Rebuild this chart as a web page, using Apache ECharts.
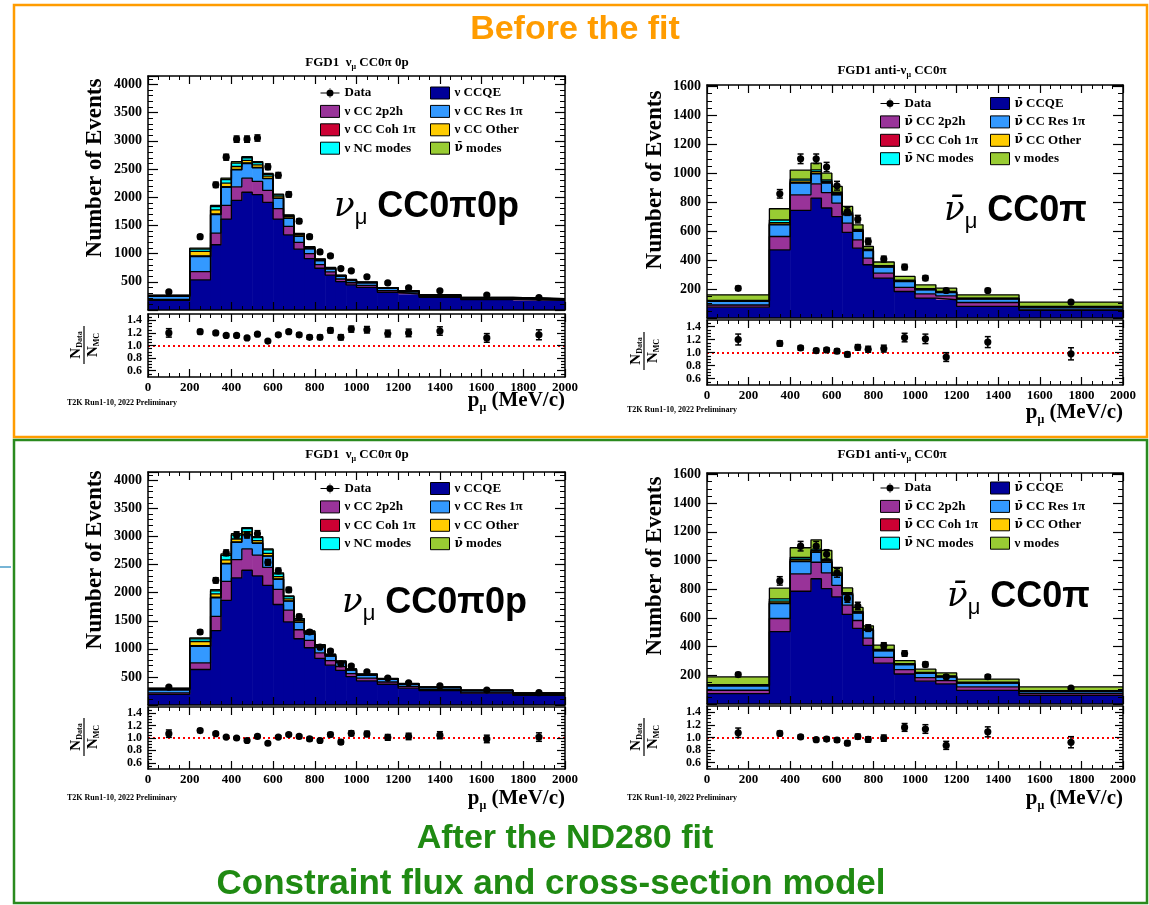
<!DOCTYPE html>
<html>
<head>
<meta charset="utf-8">
<title>FGD1 CC0π before and after the ND280 fit</title>
<script src="https://cdn.jsdelivr.net/npm/echarts@6/dist/echarts.min.js"></script>
<style>
  html, body { margin: 0; padding: 0; background: #fff; }
  #chart { width: 1149px; height: 905px; }
</style>
</head>
<body>
<div id="chart"></div>
<script>
// bin edges in p_mu (MeV/c)
const edgesNu = [0, 200, 300, 350, 400, 450, 500, 550, 600, 650, 700, 750, 800, 850, 900, 950, 1000, 1100, 1200, 1300, 1500, 1750, 2000];
const edgesAnti = [0, 300, 400, 500, 550, 600, 650, 700, 750, 800, 900, 1000, 1100, 1200, 1500, 2000];

// data counts (same before / after the fit)
const dataNu = [320, 1300, 2220, 2710, 3030, 3030, 3050, 2540, 2390, 2050, 1575, 1300, 1030, 960, 735, 695, 590, 480, 395, 340, 265, 220];
const dataAnti = [205, 858, 1100, 1100, 1043, 914, 736, 683, 529, 407, 352, 276, 190, 190, 110];

// N_Data / N_MC
const ratioNuPre = [1.2, 1.22, 1.2, 1.16, 1.16, 1.12, 1.18, 1.07, 1.17, 1.22, 1.17, 1.13, 1.13, 1.24, 1.13, 1.26, 1.25, 1.19, 1.2, 1.23, 1.12, 1.17];
const ratioNuPost = [1.07, 1.12, 1.07, 1.015, 1.0, 0.96, 1.025, 0.915, 1.015, 1.055, 1.025, 0.985, 0.96, 1.055, 0.935, 1.075, 1.065, 1.01, 1.025, 1.045, 0.985, 1.015];
const ratioAntiPre = [1.2, 1.14, 1.07, 1.03, 1.04, 1.02, 0.97, 1.08, 1.05, 1.06, 1.23, 1.21, 0.93, 1.16, 0.98];
const ratioAntiPost = [1.075, 1.065, 1.01, 0.965, 0.975, 0.96, 0.91, 1.015, 0.97, 0.99, 1.16, 1.135, 0.875, 1.09, 0.925];

// MC, nu CC0pi0p, before the fit
const preNuCCQE = [170, 534, 1157, 1613, 1945, 2088, 2046, 1910, 1613, 1334, 1080, 910, 740, 620, 505, 445, 400, 315, 280, 226, 185, 170];
const preNu2p2h = [20, 148, 207, 243, 240, 250, 235, 210, 185, 150, 118, 90, 65, 55, 45, 38, 35, 28, 22, 17, 13, 11];
const preNuRes = [50, 267, 326, 321, 300, 260, 240, 210, 180, 140, 110, 85, 70, 55, 45, 40, 45, 40, 30, 20, 18, 15];
const preNuCoh = [2, 12, 14, 12, 10, 9, 8, 6, 5, 4, 3, 2, 2, 1, 1, 1, 1, 1, 1, 1, 0, 0];
const preNuOther = [10, 80, 70, 60, 50, 48, 45, 40, 35, 30, 25, 20, 15, 12, 10, 8, 8, 6, 5, 4, 3, 3];
const preNuNC = [8, 40, 60, 65, 60, 45, 40, 30, 25, 20, 15, 12, 10, 8, 7, 6, 6, 5, 4, 3, 3, 2];
const preNuWrong = [3, 15, 20, 25, 25, 20, 18, 15, 12, 10, 8, 6, 5, 4, 4, 3, 3, 3, 2, 2, 2, 2];

// MC, nu CC0pi0p, after the fit
const postNuCCQE = [190, 632, 1326, 1865, 2263, 2400, 2300, 2130, 1790, 1480, 1180, 1020, 830, 710, 615, 505, 430, 370, 300, 255, 210, 170];
const postNu2p2h = [25, 119, 254, 338, 326, 380, 370, 320, 270, 210, 160, 130, 100, 80, 70, 55, 50, 40, 32, 25, 20, 16];
const postNuRes = [55, 295, 327, 309, 308, 250, 210, 200, 180, 160, 130, 115, 100, 80, 70, 60, 50, 45, 35, 30, 25, 20];
const postNuCoh = [2, 10, 12, 12, 10, 8, 8, 7, 5, 4, 3, 2, 2, 1, 1, 1, 1, 1, 1, 1, 0, 0];
const postNuOther = [12, 75, 60, 60, 50, 45, 40, 45, 40, 35, 28, 22, 18, 15, 12, 10, 9, 8, 7, 6, 5, 4];
const postNuNC = [10, 45, 55, 80, 70, 60, 55, 60, 50, 40, 28, 24, 18, 14, 12, 10, 9, 7, 6, 5, 5, 4];
const postNuWrong = [4, 19, 21, 26, 24, 17, 15, 18, 20, 14, 10, 7, 5, 4, 4, 3, 3, 3, 2, 2, 2, 2];

// MC, anti-nu CC0pi, before the fit
const preAntiCCQE = [75, 471, 743, 829, 760, 701, 591, 483, 368, 276, 183, 138, 126, 80, 52];
const preAnti2p2h = [15, 92, 108, 98, 107, 93, 65, 57, 46, 34, 28, 29, 27, 27, 9];
const preAntiRes = [25, 81, 81, 69, 65, 57, 57, 58, 52, 42, 41, 28, 23, 24, 14];
const preAntiCoh = [1, 5, 4, 3, 3, 2, 2, 2, 1, 1, 1, 1, 1, 1, 0];
const preAntiOther = [3, 10, 12, 12, 10, 8, 8, 6, 4, 5, 4, 3, 3, 3, 3];
const preAntiNC = [3, 18, 12, 12, 10, 8, 8, 6, 4, 4, 4, 3, 3, 3, 3];
const preAntiWrong = [38, 78, 62, 47, 46, 40, 40, 32, 19, 25, 26, 27, 24, 22, 29];

// MC, anti-nu CC0pi, after the fit
const postAntiCCQE = [72, 504, 786, 873, 804, 746, 624, 527, 409, 285, 209, 159, 140, 95, 60];
const postAnti2p2h = [24, 92, 121, 115, 110, 81, 65, 55, 50, 40, 31, 25, 23, 25, 12];
const postAntiRes = [30, 104, 86, 69, 74, 69, 73, 52, 55, 46, 34, 30, 25, 25, 15];
const postAntiCoh = [1, 5, 4, 3, 3, 2, 2, 2, 1, 1, 1, 1, 1, 1, 0];
const postAntiOther = [3, 12, 12, 10, 8, 8, 6, 5, 4, 4, 3, 3, 3, 3, 3];
const postAntiNC = [4, 15, 12, 10, 9, 8, 6, 5, 4, 4, 3, 3, 3, 3, 3];
const postAntiWrong = [55, 75, 68, 64, 62, 38, 33, 27, 22, 31, 22, 22, 22, 22, 26];

const NUBAR = 'ν\u0304';
const namesNu = ['ν CCQE', 'ν CC 2p2h', 'ν CC Res 1π', 'ν CC Coh 1π', 'ν CC Other', 'ν NC modes', NUBAR + ' modes'];
const namesAnti = [NUBAR + ' CCQE', NUBAR + ' CC 2p2h', NUBAR + ' CC Res 1π', NUBAR + ' CC Coh 1π', NUBAR + ' CC Other', NUBAR + ' NC modes', 'ν modes'];
const modeColors = ['#000099', '#993399', '#3399ff', '#cc0033', '#ffcc00', '#00ffff', '#99cc33'];

const ratioTicks = [0.6, 0.8, 1.0, 1.2, 1.4];
const ratioMinorTicks = [0.55, 0.65, 0.7, 0.75, 0.85, 0.9, 0.95, 1.05, 1.1, 1.15, 1.25, 1.3, 1.35, 1.45];

const serif = '"Liberation Serif", "DejaVu Serif", serif';
const sans = '"Liberation Sans", Arial, sans-serif';

const panels = [
  { edges: edgesNu, data: dataNu, ratio: ratioNuPre, names: namesNu,
    layers: [preNuCCQE, preNu2p2h, preNuRes, preNuCoh, preNuOther, preNuNC, preNuWrong],
    x: 148, w: 417, mainTop: 76, mainH: 234, ratioTop: 314, ratioH: 63,
    yMax: 4150, yStep: 500, yMinor: 5,
    title: '{b|FGD1  ν}{s|μ}{b| CC0π 0p}', titleX: 357, titleY: 63,
    legTop: 86.5, legX: [320, 430], yTitle: [95, 168], rTitle: [84, 345],
    xTitle: [565, 401], t2k: [67, 403], big: '{nu|ν}{mu|μ}{t| CC0π0p}', bigPos: [334, 207] },
  { edges: edgesAnti, data: dataAnti, ratio: ratioAntiPre, names: namesAnti,
    layers: [preAntiCCQE, preAnti2p2h, preAntiRes, preAntiCoh, preAntiOther, preAntiNC, preAntiWrong],
    x: 707, w: 416, mainTop: 85, mainH: 233, ratioTop: 320, ratioH: 65,
    yMax: 1610, yStep: 200, yMinor: 4,
    title: '{b|FGD1 anti-ν}{s|μ}{b| CC0π}', titleX: 892, titleY: 71,
    legTop: 97, legX: [880, 990], yTitle: [655, 180], rTitle: [644, 351],
    xTitle: [1123, 413], t2k: [627, 410], big: '{nu|' + NUBAR + '}{mu|μ}{t| CC0π}', bigPos: [944, 211] },
  { edges: edgesNu, data: dataNu, ratio: ratioNuPost, names: namesNu,
    layers: [postNuCCQE, postNu2p2h, postNuRes, postNuCoh, postNuOther, postNuNC, postNuWrong],
    x: 148, w: 417, mainTop: 472, mainH: 233, ratioTop: 707, ratioH: 62,
    yMax: 4150, yStep: 500, yMinor: 5,
    title: '{b|FGD1  ν}{s|μ}{b| CC0π 0p}', titleX: 357, titleY: 455,
    legTop: 482, legX: [320, 430], yTitle: [95, 560], rTitle: [84, 737],
    xTitle: [565, 799], t2k: [67, 798], big: '{nu|ν}{mu|μ}{t| CC0π0p}', bigPos: [342, 603] },
  { edges: edgesAnti, data: dataAnti, ratio: ratioAntiPost, names: namesAnti,
    layers: [postAntiCCQE, postAnti2p2h, postAntiRes, postAntiCoh, postAntiOther, postAntiNC, postAntiWrong],
    x: 707, w: 416, mainTop: 473, mainH: 231, ratioTop: 706, ratioH: 63,
    yMax: 1610, yStep: 200, yMinor: 4,
    title: '{b|FGD1 anti-ν}{s|μ}{b| CC0π}', titleX: 892, titleY: 455,
    legTop: 481.5, legX: [880, 990], yTitle: [655, 566], rTitle: [644, 737],
    xTitle: [1123, 799], t2k: [627, 798], big: '{nu|' + NUBAR + '}{mu|μ}{t| CC0π}', bigPos: [947, 597] }
];

const grids = [], xAxes = [], yAxes = [], series = [], legends = [], graphics = [];

const black = { color: '#000' };
const labelFont = { fontFamily: serif, fontWeight: 'bold', color: '#000' };

function xAx(g, pos, labels) {
  return {
    gridIndex: g, type: 'value', position: pos, min: 0, max: 2000, interval: 200, z: 5,
    axisLine: { show: true, onZero: false, lineStyle: { color: '#000', width: 1.5 } },
    axisTick: { show: true, inside: true, length: 8, lineStyle: { color: '#000', width: 1.2 } },
    minorTick: { show: true, splitNumber: 4, length: 4, lineStyle: { color: '#000', width: 1 } },
    axisLabel: Object.assign({ show: labels, margin: 4, fontSize: 13, formatter: v => String(v) }, labelFont),
    splitLine: { show: false }
  };
}

function yMain(g, pos, p, labels) {
  return {
    gridIndex: g, type: 'value', position: pos, min: 0, max: p.yMax, interval: p.yStep, z: 5,
    axisLine: { show: true, onZero: false, lineStyle: { color: '#000', width: 1.5 } },
    axisTick: { show: true, inside: true, length: 10, lineStyle: { color: '#000', width: 1.2 } },
    minorTick: { show: true, splitNumber: p.yMinor, length: 5, lineStyle: { color: '#000', width: 1 } },
    axisLabel: Object.assign({
      show: labels, margin: 6, fontSize: 14,
      formatter: v => (v > 0 && v % p.yStep === 0) ? String(v) : ''
    }, labelFont),
    splitLine: { show: false }
  };
}

function yRatio(g, pos, labels, ticks, len, line) {
  return {
    gridIndex: g, type: 'value', position: pos, min: 0.5, max: 1.5, z: 5,
    axisLine: { show: line, onZero: false, lineStyle: { color: '#000', width: 1.5 } },
    axisTick: { show: true, inside: true, length: len, customValues: ticks, lineStyle: { color: '#000', width: 1.2 } },
    axisLabel: Object.assign({
      show: labels, margin: 6, fontSize: 12, lineHeight: 11, hideOverlap: false, customValues: ticks,
      formatter: v => Number(v).toFixed(1)
    }, labelFont),
    splitLine: { show: false }
  };
}

function errorBarItem(params, api) {
  const x = api.value(0), y = api.value(1), e = api.value(2);
  const c = api.coord([x, y]);
  const hi = api.coord([x, y + e]);
  const lo = api.coord([x, y - e]);
  const st = { stroke: '#000', lineWidth: 1.5 };
  return {
    type: 'group',
    children: [
      { type: 'line', shape: { x1: c[0], y1: hi[1], x2: c[0], y2: lo[1] }, style: st },
      { type: 'line', shape: { x1: c[0] - 3, y1: hi[1], x2: c[0] + 3, y2: hi[1] }, style: st },
      { type: 'line', shape: { x1: c[0] - 3, y1: lo[1], x2: c[0] + 3, y2: lo[1] }, style: st },
      { type: 'circle', shape: { cx: c[0], cy: c[1], r: 3.6 }, style: { fill: '#000' } }
    ]
  };
}

function fillItem(params, api) {
  const a = api.coord([api.value(0), api.value(3)]);
  const b = api.coord([api.value(1), api.value(2)]);
  return {
    type: 'rect',
    shape: { x: a[0], y: a[1], width: b[0] - a[0] + 0.6, height: b[1] - a[1] },
    style: { fill: api.visual('color') }
  };
}

// the anti-neutrino bar renders cleanly in DejaVu, so that glyph gets its own rich style
function legendText(name) {
  if (name.indexOf(NUBAR) === 0) return '{bar|' + NUBAR + '}' + name.slice(NUBAR.length);
  return name;
}

const dataIcon = 'path://M0,5.4H19V6.6H0Z M9.2,1H9.8V11H9.2Z M13,6A3.5,3.5,0,1,1,6,6A3.5,3.5,0,1,1,13,6Z';

panels.forEach((p, idx) => {
  const gMain = grids.length;
  grids.push({ left: p.x, top: p.mainTop, width: p.w, height: p.mainH, containLabel: false, outerBoundsMode: 'none' });
  grids.push({ left: p.x, top: p.ratioTop, width: p.w, height: p.ratioH, containLabel: false, outerBoundsMode: 'none' });
  const gRatio = gMain + 1;

  const xm = xAxes.length;
  xAxes.push(xAx(gMain, 'bottom', false), xAx(gMain, 'top', false), xAx(gRatio, 'bottom', true), xAx(gRatio, 'top', false));
  const ym = yAxes.length;
  yAxes.push(yMain(gMain, 'left', p, true), yMain(gMain, 'right', p, false));
  yAxes.push(yRatio(gRatio, 'left', true, ratioTicks, 8, true), yRatio(gRatio, 'right', false, ratioTicks, 8, true));
  yAxes.push(yRatio(gRatio, 'left', false, ratioMinorTicks, 4, false), yRatio(gRatio, 'right', false, ratioMinorTicks, 4, false));

  const nb = p.edges.length - 1;
  const centers = p.edges.slice(0, nb).map((e, i) => (e + p.edges[i + 1]) / 2);
  const base = new Array(nb).fill(0);
  const outlines = [];
  p.layers.forEach((vals, k) => {
    series.push({
      type: 'custom', name: p.names[k], xAxisIndex: xm, yAxisIndex: ym, z: 2, silent: true, clip: true,
      itemStyle: { color: modeColors[k] },
      encode: { x: [0, 1], y: [2, 3] },
      data: vals.map((v, i) => [p.edges[i], p.edges[i + 1], base[i], base[i] + v]),
      renderItem: fillItem
    });
    vals.forEach((v, i) => { base[i] += v; });
    const pts = base.map((t, i) => [p.edges[i], t]);
    pts.push([p.edges[nb], base[nb - 1]]);
    outlines.push(pts);
  });
  outlines.forEach(pts => {
    series.push({
      type: 'line', step: 'end', xAxisIndex: xm, yAxisIndex: ym, z: 3, silent: true,
      symbol: 'none', lineStyle: { color: '#000', width: 1.3 }, data: pts
    });
  });

  series.push({
    type: 'custom', name: 'Data', xAxisIndex: xm, yAxisIndex: ym, z: 6, silent: true,
    itemStyle: black,
    data: p.data.map((d, i) => [centers[i], d, Math.sqrt(d)]),
    renderItem: errorBarItem
  });
  series.push({
    type: 'custom', name: 'ratio', xAxisIndex: xm + 2, yAxisIndex: ym + 2, z: 6, silent: true,
    itemStyle: black,
    data: p.ratio.map((r, i) => [centers[i], r, r / Math.sqrt(p.data[i])]),
    renderItem: errorBarItem,
    markLine: {
      silent: true, symbol: 'none', label: { show: false },
      lineStyle: { color: '#ff0000', width: 2, type: [2, 3] },
      data: [{ yAxis: 1 }]
    }
  });

  // legend: two columns
  const box = k => ({ name: p.names[k], icon: 'rect', itemStyle: { color: modeColors[k], borderColor: '#000', borderWidth: 1 } });
  const legBase = {
    orient: 'vertical', top: p.legTop, padding: 0, itemWidth: 19, itemHeight: 12, itemGap: 5.4,
    selectedMode: false, formatter: legendText,
    textStyle: {
      fontFamily: serif, fontWeight: 'bold', fontSize: 13, color: '#000', lineHeight: 12,
      rich: { bar: { fontFamily: '"DejaVu Serif", serif', fontWeight: 'bold', fontSize: 12, lineHeight: 12, color: '#000' } }
    }
  };
  legends.push(Object.assign({}, legBase, {
    left: p.legX[0],
    data: [{ name: 'Data', icon: dataIcon, itemStyle: { color: '#000' } }, box(1), box(3), box(5)]
  }));
  legends.push(Object.assign({}, legBase, { left: p.legX[1], data: [box(0), box(2), box(4), box(6)] }));

  // texts
  graphics.push({
    type: 'text', x: p.titleX, y: p.titleY,
    style: {
      text: p.title, fill: '#000', align: 'center', verticalAlign: 'middle',
      rich: {
        b: { fontFamily: serif, fontWeight: 'bold', fontSize: 13, lineHeight: 16 },
        s: { fontFamily: serif, fontWeight: 'bold', fontSize: 8, lineHeight: 8, verticalAlign: 'bottom' }
      }
    }
  });
  graphics.push({
    type: 'text', x: p.yTitle[0], y: p.yTitle[1], rotation: Math.PI / 2,
    style: { text: 'Number of Events', fill: '#000', fontFamily: serif, fontWeight: 'bold', fontSize: 23, align: 'center', verticalAlign: 'middle' }
  });
  const fracRich = {
    n: { fontFamily: serif, fontWeight: 'bold', fontSize: 15, lineHeight: 16 },
    s: { fontFamily: serif, fontWeight: 'bold', fontSize: 8, lineHeight: 8, verticalAlign: 'bottom' }
  };
  graphics.push({
    type: 'group', x: p.rTitle[0], y: p.rTitle[1], rotation: Math.PI / 2,
    children: [
      { type: 'text', x: 0, y: -8, style: { text: '{n|N}{s|Data}', rich: fracRich, fill: '#000', align: 'center', verticalAlign: 'middle' } },
      { type: 'line', shape: { x1: -19, y1: 0, x2: 19, y2: 0 }, style: { stroke: '#000', lineWidth: 1.2 } },
      { type: 'text', x: 0, y: 9, style: { text: '{n|N}{s|MC}', rich: fracRich, fill: '#000', align: 'center', verticalAlign: 'middle' } }
    ]
  });
  graphics.push({
    type: 'text', x: p.xTitle[0], y: p.xTitle[1],
    style: {
      text: '{p|p}{s|μ}{p| (MeV/c)}', fill: '#000', align: 'right', verticalAlign: 'middle',
      rich: {
        p: { fontFamily: serif, fontWeight: 'bold', fontSize: 21, lineHeight: 26 },
        s: { fontFamily: serif, fontWeight: 'bold', fontSize: 12, lineHeight: 12, verticalAlign: 'bottom' }
      }
    }
  });
  graphics.push({
    type: 'text', x: p.t2k[0], y: p.t2k[1],
    style: { text: 'T2K Run1-10, 2022 Preliminary', fill: '#000', fontFamily: serif, fontWeight: 'bold', fontSize: 8, align: 'left', verticalAlign: 'middle' }
  });
  graphics.push({
    type: 'text', x: p.bigPos[0], y: p.bigPos[1],
    style: {
      text: p.big, fill: '#000', align: 'left', verticalAlign: 'middle',
      rich: {
        nu: { fontFamily: '"DejaVu Serif", serif', fontStyle: 'italic', fontSize: 34, lineHeight: 44 },
        mu: { fontFamily: sans, fontSize: 22, lineHeight: 22, verticalAlign: 'bottom' },
        t: { fontFamily: sans, fontWeight: 'bold', fontSize: 36, lineHeight: 44 }
      }
    }
  });
});

// frames and headings
graphics.push(
  { type: 'rect', shape: { x: 14, y: 5, width: 1133, height: 432 }, style: { fill: 'none', stroke: '#ff9c00', lineWidth: 2.5 }, z: 0 },
  { type: 'rect', shape: { x: 14, y: 440, width: 1133, height: 463 }, style: { fill: 'none', stroke: '#2a8a1e', lineWidth: 2.5 }, z: 0 },
  { type: 'line', shape: { x1: 0, y1: 567, x2: 11, y2: 567 }, style: { stroke: '#4a9cc8', lineWidth: 1.5 } },
  { type: 'text', x: 575, y: 30, style: { text: 'Before the fit', fill: '#ff9c00', fontFamily: sans, fontWeight: 'bold', fontSize: 34, align: 'center', verticalAlign: 'middle' } },
  { type: 'text', x: 565, y: 839, style: { text: 'After the ND280 fit', fill: '#1f8a12', fontFamily: sans, fontWeight: 'bold', fontSize: 34, align: 'center', verticalAlign: 'middle' } },
  { type: 'text', x: 551, y: 884, style: { text: 'Constraint flux and cross-section model', fill: '#1f8a12', fontFamily: sans, fontWeight: 'bold', fontSize: 35, align: 'center', verticalAlign: 'middle' } }
);

const chart = echarts.init(document.getElementById('chart'), null, { renderer: 'canvas' });
chart.setOption({
  animation: false,
  backgroundColor: '#ffffff',
  textStyle: { fontFamily: serif },
  grid: grids,
  xAxis: xAxes,
  yAxis: yAxes,
  legend: legends,
  series: series,
  graphic: { elements: graphics }
});
</script>
</body>
</html>
